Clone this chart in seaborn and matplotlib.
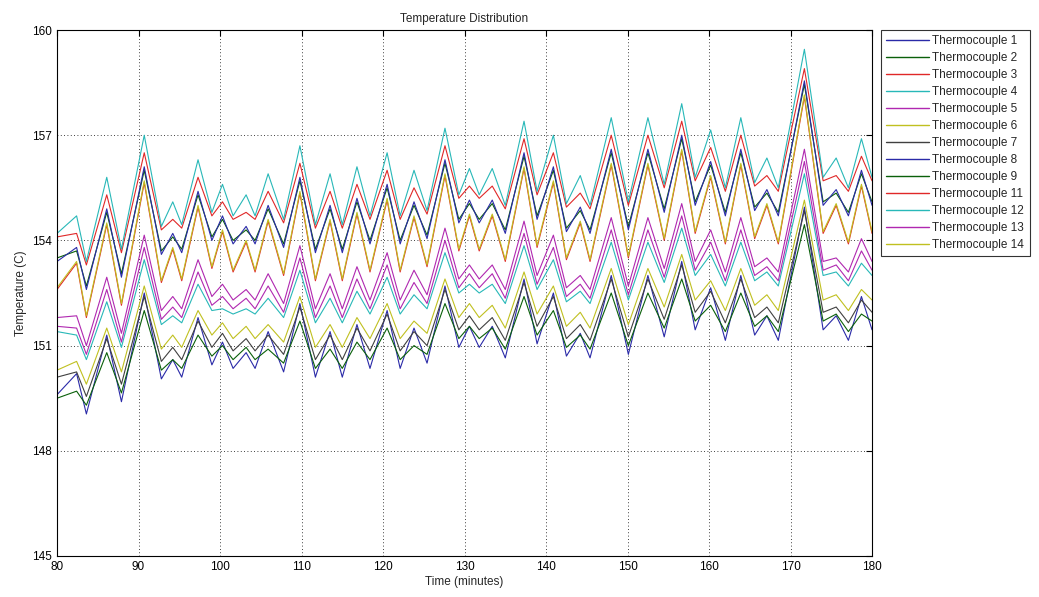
import matplotlib
matplotlib.use("Agg")
import matplotlib.pyplot as plt
import numpy as np
import pandas as pd
import seaborn as sns

# ---- data (times of the local extrema, minutes) ----
time_min = [80.0, 82.4, 83.6, 86.1, 87.9, 90.7, 92.8, 94.2, 95.3, 97.3, 99.0, 100.3, 101.6, 103.2,
            104.3, 105.9, 107.8, 109.8, 111.7, 113.5, 115.0, 116.8, 118.4, 120.5, 122.1, 123.8,
            125.4, 127.6, 129.3, 130.6, 131.8, 133.4, 135.0, 137.3, 138.9, 140.9, 142.5, 144.2,
            145.4, 148.0, 150.1, 152.5, 154.5, 156.65, 158.3, 160.2, 162.0, 163.9, 165.6, 167.1,
            168.5, 171.7, 174.0, 175.6, 177.1, 178.7, 180.0]

tc1 = [149.6, 150.2, 149.05, 151.3, 149.4, 152.5, 150.05, 150.6, 150.1, 151.8, 150.45, 151.1, 150.35, 150.8,
       150.35, 151.4, 150.25, 152.2, 150.1, 151.4, 150.1, 151.6, 150.35, 152.0, 150.35, 151.5,
       150.5, 152.7, 150.95, 151.55, 150.95, 151.55, 150.65, 152.9, 151.05, 152.5, 150.7, 151.35,
       150.65, 153.0, 150.75, 153.0, 151.25, 153.4, 151.45, 152.65, 151.15, 153.0, 151.3, 151.85,
       151.15, 154.95, 151.45, 151.85, 151.15, 152.4, 151.45]
tc2 = [153.5, 153.7, 152.7, 154.8, 153.05, 156.0, 153.7, 154.1, 153.75, 155.3, 154.1, 154.6, 154.0, 154.3,
       154.0, 154.9, 153.9, 155.7, 153.75, 154.9, 153.75, 155.1, 154.0, 155.5, 154.0, 155.0,
       154.15, 156.2, 154.6, 155.05, 154.6, 155.05, 154.3, 156.4, 154.7, 156.0, 154.35, 154.85,
       154.3, 156.5, 154.4, 156.5, 154.9, 156.9, 155.1, 156.15, 154.8, 156.5, 154.95, 155.35,
       154.8, 158.45, 155.1, 155.35, 154.8, 155.9, 155.1]
tc3 = [154.1, 154.2, 153.3, 155.3, 153.65, 156.5, 154.3, 154.6, 154.35, 155.8, 154.7, 155.1, 154.6, 154.8,
       154.6, 155.4, 154.5, 156.2, 154.35, 155.4, 154.35, 155.6, 154.6, 156.0, 154.6, 155.5,
       154.75, 156.7, 155.2, 155.55, 155.2, 155.55, 154.9, 156.9, 155.3, 156.5, 154.95, 155.35,
       154.9, 157.0, 155.0, 157.0, 155.5, 157.4, 155.7, 156.65, 155.4, 157.0, 155.55, 155.85,
       155.4, 158.9, 155.7, 155.85, 155.4, 156.4, 155.7]
tc4 = [154.2, 154.7, 153.4, 155.8, 153.75, 157.0, 154.4, 155.1, 154.45, 156.3, 154.8, 155.6, 154.7, 155.3,
       154.7, 155.9, 154.6, 156.7, 154.45, 155.9, 154.45, 156.1, 154.7, 156.5, 154.7, 156.0,
       154.85, 157.2, 155.3, 156.05, 155.3, 156.05, 155.0, 157.4, 155.4, 157.0, 155.05, 155.85,
       155.0, 157.5, 155.1, 157.5, 155.6, 157.9, 155.8, 157.15, 155.5, 157.5, 155.65, 156.35,
       155.5, 159.45, 155.8, 156.35, 155.5, 156.9, 155.8]
tc5 = [151.8, 151.85, 151.0, 152.95, 151.35, 154.15, 152.0, 152.4, 152.05, 153.45, 152.4, 152.75, 152.3, 152.6,
       152.3, 153.05, 152.2, 153.85, 152.05, 153.05, 152.05, 153.25, 152.3, 153.65, 152.3, 153.15,
       152.45, 154.35, 152.9, 153.3, 152.9, 153.3, 152.6, 154.55, 153.0, 154.15, 152.65, 153.0,
       152.6, 154.65, 152.7, 154.65, 153.2, 155.05, 153.4, 154.3, 153.1, 154.65, 153.25, 153.5,
       153.1, 156.6, 153.4, 153.5, 153.1, 154.05, 153.4]
tc6 = [150.3, 150.55, 149.9, 151.5, 150.25, 152.7, 150.9, 151.3, 150.95, 152.0, 151.3, 151.65, 151.2, 151.55,
       151.2, 151.6, 151.1, 152.4, 150.95, 151.6, 150.95, 151.8, 151.2, 152.2, 151.2, 151.7,
       151.35, 152.9, 151.8, 152.2, 151.8, 152.15, 151.5, 153.1, 151.9, 152.7, 151.55, 151.95,
       151.5, 153.2, 151.6, 153.2, 152.1, 153.6, 152.3, 152.85, 152.0, 153.2, 152.15, 152.45,
       152.0, 155.15, 152.3, 152.45, 152.0, 152.6, 152.3]
tc7 = [150.1, 150.25, 149.55, 151.2, 149.9, 152.4, 150.55, 150.95, 150.6, 151.7, 150.95, 151.35, 150.85, 151.2,
       150.85, 151.3, 150.75, 152.1, 150.6, 151.3, 150.6, 151.5, 150.85, 151.9, 150.85, 151.4,
       151.0, 152.6, 151.45, 151.85, 151.45, 151.8, 151.15, 152.8, 151.55, 152.4, 151.2, 151.6,
       151.15, 152.9, 151.25, 152.9, 151.75, 153.3, 151.95, 152.55, 151.65, 152.9, 151.8, 152.1,
       151.65, 154.85, 151.95, 152.1, 151.65, 152.3, 151.95]
tc8 = [153.4, 153.8, 152.6, 154.9, 152.95, 156.1, 153.6, 154.2, 153.65, 155.4, 154.0, 154.7, 153.9, 154.4,
       153.9, 155.0, 153.8, 155.8, 153.65, 155.0, 153.65, 155.2, 153.9, 155.6, 153.9, 155.1,
       154.05, 156.3, 154.5, 155.15, 154.5, 155.15, 154.2, 156.5, 154.6, 156.1, 154.25, 154.95,
       154.2, 156.6, 154.3, 156.6, 154.8, 157.0, 155.0, 156.25, 154.7, 156.6, 154.85, 155.45,
       154.7, 158.55, 155.0, 155.45, 154.7, 156.0, 155.0]
tc9 = [149.5, 149.7, 149.3, 150.8, 149.65, 152.0, 150.3, 150.6, 150.35, 151.3, 150.7, 151.0, 150.6, 150.95,
       150.6, 150.9, 150.5, 151.7, 150.35, 150.9, 150.35, 151.1, 150.6, 151.5, 150.6, 151.0,
       150.75, 152.2, 151.2, 151.55, 151.2, 151.5, 150.9, 152.4, 151.3, 152.0, 150.95, 151.3,
       150.9, 152.5, 151.0, 152.5, 151.5, 152.9, 151.7, 152.15, 151.4, 152.5, 151.55, 151.85,
       151.4, 154.45, 151.7, 151.9, 151.4, 151.9, 151.7]
tc11 = [152.6, 153.35, 151.8, 154.45, 152.15, 155.65, 152.8, 153.75, 152.85, 154.95, 153.2, 154.25, 153.1, 153.95,
        153.1, 154.55, 153.0, 155.35, 152.85, 154.55, 152.85, 154.75, 153.1, 155.15, 153.1, 154.65,
        153.25, 155.85, 153.7, 154.7, 153.7, 154.7, 153.4, 156.05, 153.8, 155.65, 153.45, 154.5,
        153.4, 156.15, 153.5, 156.15, 154.0, 156.55, 154.2, 155.8, 153.9, 156.15, 154.05, 155.0,
        153.9, 158.1, 154.2, 155.0, 153.9, 155.55, 154.2]
tc12 = [151.4, 151.3, 150.6, 152.25, 150.95, 153.45, 151.6, 151.85, 151.65, 152.75, 152.0, 152.05, 151.9, 152.05,
        151.9, 152.35, 151.8, 153.15, 151.65, 152.35, 151.65, 152.55, 151.9, 152.95, 151.9, 152.45,
        152.05, 153.65, 152.5, 152.75, 152.5, 152.75, 152.2, 153.85, 152.6, 153.45, 152.25, 152.55,
        152.2, 153.95, 152.3, 153.95, 152.8, 154.35, 153.0, 153.6, 152.7, 153.95, 152.85, 153.1,
        152.7, 155.9, 153.0, 153.1, 152.7, 153.35, 153.0]
tc13 = [151.55, 151.5, 150.75, 152.6, 151.1, 153.8, 151.75, 152.1, 151.8, 153.1, 152.15, 152.4, 152.05, 152.35,
        152.05, 152.7, 151.95, 153.5, 151.8, 152.7, 151.8, 152.9, 152.05, 153.3, 152.05, 152.8,
        152.2, 154.0, 152.65, 153.05, 152.65, 153.05, 152.35, 154.2, 152.75, 153.8, 152.4, 152.75,
        152.35, 154.3, 152.45, 154.3, 152.95, 154.7, 153.15, 153.95, 152.85, 154.3, 153.0, 153.25,
        152.85, 156.25, 153.15, 153.3, 152.85, 153.7, 153.15]
tc14 = [152.65, 153.4, 151.85, 154.5, 152.2, 155.7, 152.85, 153.8, 152.9, 155.0, 153.25, 154.3, 153.15, 154.0,
        153.15, 154.6, 153.05, 155.4, 152.9, 154.6, 152.9, 154.8, 153.15, 155.2, 153.15, 154.7,
        153.3, 155.9, 153.75, 154.75, 153.75, 154.75, 153.45, 156.1, 153.85, 155.7, 153.5, 154.55,
        153.45, 156.2, 153.55, 156.2, 154.05, 156.6, 154.25, 155.85, 153.95, 156.2, 154.1, 155.05,
        153.95, 158.15, 154.25, 155.05, 153.95, 155.6, 154.25]

series_names = ["Thermocouple 1", "Thermocouple 2", "Thermocouple 3", "Thermocouple 4",
                "Thermocouple 5", "Thermocouple 6", "Thermocouple 7", "Thermocouple 8",
                "Thermocouple 9", "Thermocouple 11", "Thermocouple 12", "Thermocouple 13",
                "Thermocouple 14"]
series_values = [tc1, tc2, tc3, tc4, tc5, tc6, tc7, tc8, tc9, tc11, tc12, tc13, tc14]
series_colors = ["#2a2aa8", "#0a600a", "#e02828", "#28b8b8", "#b028b0", "#c0c020", "#404040",
                 "#2a2aa8", "#0a600a", "#e02828", "#28b8b8", "#b028b0", "#c0c020"]

x_ticks = [80, 90, 100, 110, 120, 130, 140, 150, 160, 170, 180]
y_ticks = [145, 148, 151, 154, 157, 160]

# ---- build long-form table ----
frames = []
for name, vals in zip(series_names, series_values):
    frames.append(pd.DataFrame({"Time": time_min, "Temp": vals, "Series": name}))
df = pd.concat(frames, ignore_index=True)

sns.set_style("white")
plt.rcParams["font.family"] = ["Liberation Sans", "DejaVu Sans"]

fig = plt.figure(figsize=(10.39, 5.97), dpi=100)
ax = fig.add_axes([0.0549, 0.0687, 0.7844, 0.881])

sns.lineplot(data=df, x="Time", y="Temp", hue="Series", hue_order=series_names,
             palette=dict(zip(series_names, series_colors)), sort=False, estimator=None,
             linewidth=0.8, ax=ax, legend=True)

ax.set_xlim(80, 180)
ax.set_ylim(145, 160)
ax.set_xticks(x_ticks)
ax.set_yticks(y_ticks)
ax.grid(True, linestyle=(0, (1, 3)), color="black", linewidth=0.6)
ax.tick_params(direction="in", top=True, right=True, length=4, width=0.8,
               labelsize=8.5, colors="black")
for s in ax.spines.values():
    s.set_color("black")
    s.set_linewidth(0.8)

ax.set_title("Temperature Distribution", fontsize=8.5, pad=6)
ax.set_xlabel("Time (minutes)", fontsize=8.5, labelpad=2)
ax.set_ylabel("Temperature (C)", fontsize=8.5, labelpad=4)

handles, labels = ax.get_legend_handles_labels()
leg = ax.legend(handles, labels, loc="upper left", bbox_to_anchor=(1.011, 1.0),
                borderaxespad=0, fontsize=8.5, frameon=True, fancybox=False,
                edgecolor="black", handlelength=3.6, handletextpad=0.3,
                labelspacing=0.42, borderpad=0.45)
leg.get_frame().set_linewidth(0.8)
for line in leg.get_lines():
    line.set_linewidth(1.0)

fig.savefig("out.png", dpi=100)
